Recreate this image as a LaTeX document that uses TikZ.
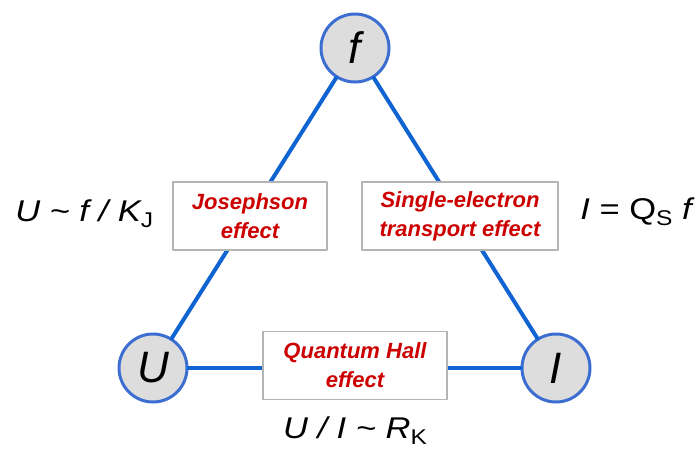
\documentclass[tikz,border=0pt]{standalone}
\usepackage{fontspec}
\setmainfont{Liberation Sans}
\definecolor{lineblue}{RGB}{16,100,210}
\definecolor{ringblue}{RGB}{60,110,210}
\definecolor{ringfill}{RGB}{221,221,221}
\definecolor{effred}{RGB}{204,0,0}
\definecolor{boxgray}{RGB}{180,180,180}
\newcommand{\lowsub}[1]{\raisebox{-0.4ex}{\fontsize{16}{16}\selectfont\upshape #1}}
\tikzset{
  quantity/.style={circle,draw=ringblue,fill=ringfill,line width=2.25pt,
    minimum size=51pt,inner sep=0pt,font=\fontsize{33}{33}\selectfont\itshape},
  effectbox/.style={rectangle,draw=boxgray,line width=1.2pt,fill=white,
    text=effred,align=center,inner sep=0pt,minimum height=51pt,
    font=\fontsize{16.5}{21.75}\selectfont\bfseries\itshape},
  relation/.style={font=\fontsize{22.5}{22.5}\selectfont\addfontfeatures{FakeStretch=1.15},inner sep=0pt},
  link/.style={lineblue,line width=3pt}
}
\begin{document}
\begin{tikzpicture}[x=0.75pt,y=-0.75pt,line join=round,line cap=round]
  % --- Khung hình ---
  \useasboundingbox (0,0) rectangle (696,458);
  % --- Ba đại lượng ---
  \node[quantity] (f) at (355,48) {f};
  \node[quantity] (U) at (153,368) {U};
  \node[quantity] (I) at (556,368) {I};
  % --- Các cạnh tam giác ---
  \draw[link] (f)--(U);
  \draw[link] (f)--(I);
  \draw[link] (U)--(I);
  % --- Ba hiệu ứng ---
  \node[effectbox,minimum width=115.5pt] (jos) at (250,216) {Josephson\\effect};
  \node[effectbox,minimum width=147pt] (set) at (460,216) {Single-electron\\transport effect};
  \node[effectbox,minimum width=138pt] (qhe) at (355,365.5) {Quantum Hall\\effect};
  % --- Các hệ thức ---
  \node[relation,anchor=base west] (ujos) at (15,221)
    {\itshape U \textasciitilde{} f / K\lowsub{J}};
  \node[relation,anchor=base east] (iset) at (692,219)
    {\itshape I \upshape= \upshape Q\lowsub{S} \itshape f};
  \node[relation,anchor=base] (uqhe) at (355,438)
    {\itshape U / I \textasciitilde{} R\lowsub{K}};
\end{tikzpicture}
\end{document}
